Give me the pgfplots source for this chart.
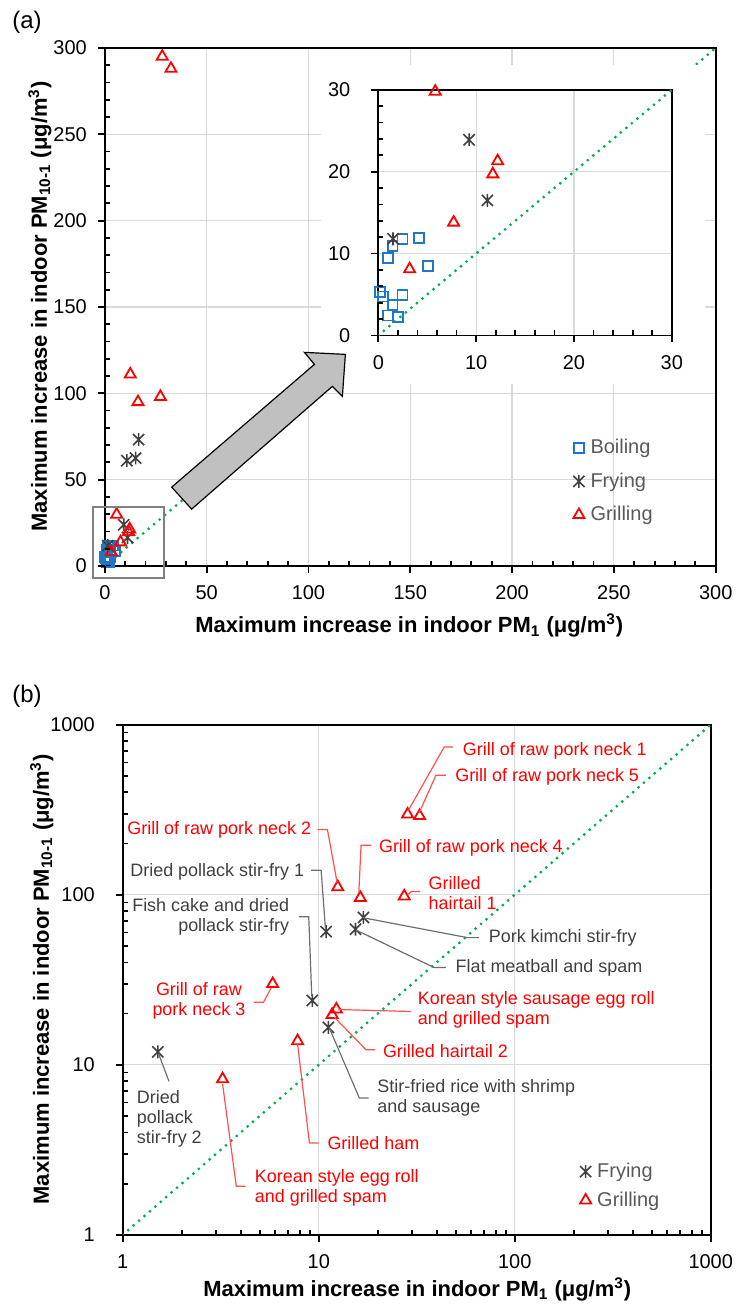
\documentclass[border=0pt]{standalone}
\usepackage{fontspec}
\setmainfont{Liberation Sans}
\usepackage{pgfplots}
\pgfplotsset{compat=1.18}
\definecolor{boil}{RGB}{30,120,200}
\definecolor{fry}{RGB}{64,64,64}
\definecolor{grill}{RGB}{255,0,0}
\definecolor{diag}{RGB}{0,176,80}
\definecolor{gridc}{RGB}{217,217,217}
\definecolor{legtext}{RGB}{89,89,89}
\definecolor{anngray}{RGB}{64,64,64}
\definecolor{lngray}{RGB}{110,110,110}
\definecolor{lnred}{RGB}{255,80,80}
\definecolor{arrowfill}{RGB}{192,192,192}
\pgfdeclareplotmark{xstar}{%
  \pgfpathmoveto{\pgfqpoint{-\pgfplotmarksize}{-\pgfplotmarksize}}%
  \pgfpathlineto{\pgfqpoint{\pgfplotmarksize}{\pgfplotmarksize}}%
  \pgfpathmoveto{\pgfqpoint{-\pgfplotmarksize}{\pgfplotmarksize}}%
  \pgfpathlineto{\pgfqpoint{\pgfplotmarksize}{-\pgfplotmarksize}}%
  \pgfpathmoveto{\pgfqpoint{0pt}{-1.15\pgfplotmarksize}}%
  \pgfpathlineto{\pgfqpoint{0pt}{1.15\pgfplotmarksize}}%
  \pgfusepathqstroke}
\pgfplotsset{
  legmark/.style={legend image code/.code={\draw[##1] plot coordinates {(0pt,0pt)};}},
  base/.style={scale only axis, anchor=south west, tick pos=left, tick align=outside,
    major tick length=0pt, minor tick length=0pt, grid=major,
    every major grid/.append style={gridc, line width=0.6pt},
    axis line style={line width=0.9pt, black},
    ticklabel style={font=\fontsize{10}{12}\selectfont},
    /pgf/number format/assume math mode=true,
    xticklabel style={yshift=-6.5pt}, yticklabel style={xshift=-5.5pt}},
  boilst/.style={only marks, mark=square, mark size=2.5pt, draw=boil, line width=0.9pt, legmark},
  fryst/.style={only marks, mark=xstar, mark size=2.8pt, draw=fry, line width=0.8pt, legmark},
  grillst/.style={only marks, mark=triangle, mark size=3.2pt, draw=grill, line width=0.9pt, legmark},
  diagst/.style={diag, line width=1.6pt, line cap=round, dash pattern=on 0pt off 3.6pt}
}
\tikzset{
  px/.style={x=0.5pt,y=-0.5pt},
  rlab/.style={text=grill, font=\fontsize{9}{10}\selectfont, inner sep=0pt},
  glab/.style={text=anngray, font=\fontsize{9}{10}\selectfont, inner sep=0pt},
  rln/.style={draw=lnred, line width=0.6pt},
  gln/.style={draw=lngray, line width=0.6pt},
  tk/.style={draw=black, line width=0.9pt}
}
\begin{document}
\begin{tikzpicture}
\begin{scope}[px]
\useasboundingbox (0,0) rectangle (738,1308);
\end{scope}
% ---------- panel (a) main ----------
\begin{axis}[base, at={(52.5pt,-283.5pt)}, width=306pt, height=259.5pt,
  xmin=0, xmax=300, ymin=0, ymax=300,
  xtick={0,50,...,300}, ytick={0,50,...,300},
  legend style={at={(0.7663,0.2493)}, anchor=north west, draw=none, fill=none,
    inner sep=0pt, row sep=6pt, font=\fontsize{10}{12}\selectfont,
    nodes={text=legtext, inner sep=1pt}},
  legend cell align=left,
  /tikz/every odd column/.append style={column sep=2pt}]
\addplot[diagst, forget plot] coordinates {(0,0) (300,300)};
\addplot[boilst] coordinates {(0.95,9.47) (1.46,10.9) (2.48,11.8) (4.18,11.9) (5.1,8.46) (0.17,5.3) (0.5,4.75) (2.48,4.9) (1.46,3.7) (0.95,2.44) (2.04,2.24)};
\addlegendentry{Boiling}
\addplot[fryst] coordinates {(1.5,11.8) (9.28,23.9) (11.15,16.5) (10.8,61) (15.1,62.5) (16.6,73.2)};
\addlegendentry{Frying}
\addplot[grillst] coordinates {(28.2,295) (32.5,288) (12.5,111) (16.3,95) (27.3,98) (5.82,29.8) (12.2,21.3) (11.7,19.7) (7.7,13.8) (3.2,8.1)};
\addlegendentry{Grilling}
\end{axis}
\begin{scope}[px]
\fill[white] (322,65) rectangle (706,385);
\end{scope}
% ---------- inset ----------
\begin{axis}[base, at={(189.5pt,-168pt)}, width=147pt, height=123pt,
  xmin=0, xmax=30, ymin=0, ymax=30,
  xtick={0,10,20,30}, ytick={0,10,20,30},
  yticklabel style={xshift=-5pt}]
\addplot[diagst] coordinates {(0,0) (30,30)};
\addplot[boilst] coordinates {(0.95,9.47) (1.46,10.9) (2.48,11.8) (4.18,11.9) (5.1,8.46) (0.17,5.3) (0.5,4.75) (2.48,4.9) (1.46,3.7) (0.95,2.44) (2.04,2.24)};
\addplot[fryst] coordinates {(1.5,11.8) (9.28,23.9) (11.15,16.5) (10.8,61) (15.1,62.5) (16.6,73.2)};
\addplot[grillst] coordinates {(28.2,295) (32.5,288) (12.5,111) (16.3,95) (27.3,98) (5.82,29.8) (12.2,21.3) (11.7,19.7) (7.7,13.8) (3.2,8.1)};
\end{axis}
\begin{scope}[px]
% ticks of (a) and inset
\foreach \v in {0,50,...,300} {\draw[tk] ({105+2.04*\v},567) -- ++(0,7); \draw[tk] (105,{567-1.73*\v}) -- ++(-7,0);}
\foreach \m in {0,50,...,250} \foreach \k in {10,20,30,40} {\draw[tk] ({105+2.04*(\m+\k)},567) -- ++(0,-5); \draw[tk] (105,{567-1.73*(\m+\k)}) -- ++(5,0);}
\foreach \v in {0,10,20,30} {\draw[tk] ({379+9.8*\v},336) -- ++(0,7); \draw[tk] (379,{336-8.2*\v}) -- ++(-7,0);}
\foreach \m in {0,10,20} \foreach \k in {2,4,6,8} {\draw[tk] ({379+9.8*(\m+\k)},336) -- ++(0,-5); \draw[tk] (379,{336-8.2*(\m+\k)}) -- ++(5,0);}
% arrow and box
\filldraw[fill=arrowfill, draw=black, line width=0.6pt, line join=miter]
  (172,488) -- (315,365) -- (305,353) -- (346,355) -- (343,397) -- (333,387) -- (192,510) -- cycle;
\draw[gray, line width=0.8pt] (93,508) rectangle (164,579);
% labels (a)
\node[font=\fontsize{12}{14}\selectfont] at (27,22) {(a)};
\node[font=\bfseries\fontsize{11}{13}\selectfont] at (410,627) {Maximum increase in indoor PM\textsubscript{1} (μg/m\textsuperscript{3})};
\node[font=\bfseries\fontsize{11}{13}\selectfont, rotate=90] at (40,307) {Maximum increase in indoor PM\textsubscript{10-1} (μg/m\textsuperscript{3})};
\end{scope}
% ---------- panel (b) ----------
\begin{axis}[base, at={(61.5pt,-618.5pt)}, width=294.5pt, height=255.5pt,
  xmode=log, ymode=log, xmin=1, xmax=1000, ymin=1, ymax=1000,
  xtick={1,10,100,1000}, xticklabels={1,10,100,1000},
  ytick={1,10,100,1000}, yticklabels={1,10,100,1000},
  minor xtick={}, minor ytick={},
  yticklabel style={xshift=-5pt},
  legend style={at={(0.7771,0.1456)}, anchor=north west, draw=none, fill=none,
    inner sep=0pt, row sep=3.6pt, font=\fontsize{10}{12}\selectfont,
    nodes={text=legtext, inner sep=1pt}},
  legend cell align=left,
  /tikz/every odd column/.append style={column sep=2pt}]
\addplot[diagst, forget plot] coordinates {(1,1) (1000,1000)};
\addplot[fryst] coordinates {(1.51,11.9) (9.27,23.9) (11.2,16.6) (10.9,60.7) (15.4,62.7) (16.9,73.5)};
\addlegendentry{Frying}
\addplot[grillst] coordinates {(28.4,297) (32.7,291) (12.5,111) (16.3,96) (27.3,98) (5.82,29.9) (12.3,21.2) (11.7,19.7) (7.8,13.8) (3.23,8.24)};
\addlegendentry{Grilling}
\end{axis}
\begin{scope}[px]
% ticks of (b)
\foreach \d in {0,1,2,3} {\draw[tk] ({123+196.333*\d},1237) -- ++(0,7); \draw[tk] (123,{1237-170.333*\d}) -- ++(-7,0);}
\foreach \d in {0,1,2} \foreach \k in {2,...,9} {\draw[tk] ({123+196.333*(\d+log10(\k))},1237) -- ++(0,-5); \draw[tk] (123,{1237-170.333*(\d+log10(\k))}) -- ++(5,0);}
% annotations (b)
\node[rlab, anchor=east] at (312,831.7) {Grill of raw pork neck 2};
\draw[rln] (318,831) -- (328,831) -- (337.7,884);
\node[rlab, anchor=west] at (379.3,849) {Grill of raw pork neck 4};
\draw[rln] (371.7,846.7) -- (361.7,846.7) -- (359.5,894);
\node[rlab, anchor=west] at (463.3,751.7) {Grill of raw pork neck 1};
\draw[rln] (454,748.3) -- (445,748.3) -- (409,812);
\node[rlab, anchor=west] at (455.7,778.3) {Grill of raw pork neck 5};
\draw[rln] (446.7,776.7) -- (436.7,776.7) -- (420,814);
\node[rlab, anchor=west, align=left] at (429,894.2) {Grilled\\hairtail 1};
\draw[rln] (421,893) -- (412,893) -- (409,896);
\node[rlab, align=center] at (199.3,1002.7) {Grill of raw\\pork neck 3};
\draw[rln] (254,1004) -- (264,1004) -- (271.5,990);
\node[rlab, anchor=west, align=left] at (418.3,1011.7) {Korean style sausage egg roll\\and grilled spam};
\draw[rln] (411.7,1013.3) -- (339,1011.3);
\node[rlab, anchor=west] at (383.3,1052.7) {Grilled hairtail 2};
\draw[rln] (376,1051.7) -- (366.7,1051.7) -- (335,1019);
\node[rlab, anchor=west] at (327.7,1145) {Grilled ham};
\draw[rln] (319.3,1145) -- (310,1145) -- (298,1045);
\node[rlab, anchor=west, align=left] at (255,1189.7) {Korean style egg roll\\and grilled spam};
\draw[rln] (246,1188.3) -- (236.7,1188.3) -- (223,1086);
\node[glab, anchor=east] at (305,873.3) {Dried pollack stir-fry 1};
\draw[gln] (311.7,871.7) -- (321.7,871.7) -- (326,930);
\node[glab, anchor=east, align=right] at (290,918.3) {Fish cake and dried\\pollack stir-fry};
\draw[gln] (299.3,918.3) -- (309.3,918.3) -- (312.3,998);
\node[glab, anchor=west] at (489.3,940) {Pork kimchi stir-fry};
\draw[gln] (480,939.3) -- (468.3,939.3) -- (363.3,919.3);
\node[glab, anchor=west] at (456,970) {Flat meatball and spam};
\draw[gln] (446.7,969.3) -- (435,969.3) -- (356.7,931.7);
\node[glab, anchor=west, align=left] at (377.7,1099.7) {Stir-fried rice with shrimp\\and sausage};
\draw[gln] (369.3,1100) -- (360,1100) -- (330,1030);
\node[glab, anchor=west, align=left] at (136.7,1120.5) {Dried\\pollack\\stir-fry 2};
\draw[gln] (169.3,1083.3) -- (159.3,1056.7);
% labels (b)
\node[font=\fontsize{12}{14}\selectfont] at (27,698) {(b)};
\node[font=\bfseries\fontsize{11}{13}\selectfont] at (418,1292) {Maximum increase in indoor PM\textsubscript{1} (μg/m\textsuperscript{3})};
\node[font=\bfseries\fontsize{11}{13}\selectfont, rotate=90] at (42,981) {Maximum increase in indoor PM\textsubscript{10-1} (μg/m\textsuperscript{3})};
\end{scope}
\end{tikzpicture}
\end{document}
